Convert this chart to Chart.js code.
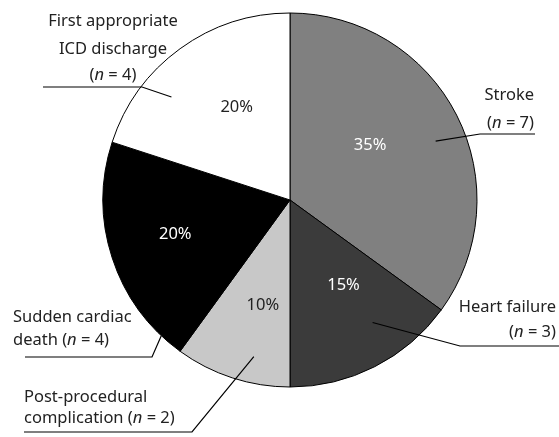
<!DOCTYPE html>
<html>
<head>
<meta charset="utf-8">
<script src="https://cdn.jsdelivr.net/npm/chart.js@4"></script>
<style>
  html, body { margin: 0; padding: 0; background: #fff; }
  #wrap { width: 559px; height: 437px; }
</style>
</head>
<body>
<div id="wrap"><canvas id="chart" width="559" height="437"></canvas></div>
<script>
// Outcome categories, counts (n) and shares
const categories = ['Stroke', 'Heart failure', 'Post-procedural complication', 'Sudden cardiac death', 'First appropriate ICD discharge'];
const counts = [7, 3, 2, 4, 4];
const percents = [35, 15, 10, 20, 20];
const sliceColors = ['#808080', '#3b3b3b', '#c8c8c8', '#000000', '#ffffff'];
const pctColors = ['#ffffff', '#ffffff', '#222222', '#ffffff', '#222222'];

// label text lines; the last line ends with "(n = x)"
const labelLines = [
  ['Stroke', '(n = 7)'],
  ['Heart failure', '(n = 3)'],
  ['Post-procedural', 'complication (n = 2)'],
  ['Sudden cardiac', 'death (n = 4)'],
  ['First appropriate', 'ICD discharge', '(n = 4)'],
];

// layout of the callouts (screen px); inner end of leader given as angle (deg from top, clockwise) + radius fraction
const callouts = [
  { align: 'right',  x: 534, base: [100, 128],     line: [535, 134, 480], inner: [68, 0.84] },
  { align: 'right',  x: 556, base: [312, 337],     line: [559, 346, 460], inner: [146, 0.79] },
  { align: 'left',   x: 24,  base: [402, 423],     line: [24, 432, 192],  inner: [193, 0.86] },
  { align: 'left',   x: 13,  base: [322, 345],     line: [25, 357, 152],  inner: [223.5, 1.0] },
  { align: 'center', x: 113, base: [26, 54, 80],   line: [43, 87, 142],   inner: [311, 0.84] },
];
// percentage label anchors (angle deg from top, radius fraction)
const pctPos = [[55.5, 0.52], [148, 0.54], [194.5, 0.58], [253.5, 0.64], [330, 0.57]];

const FONT = '"Noto Sans", sans-serif';
const SIZE = 16.5;

function polar(cx, cy, deg, r) {
  const a = (deg - 90) * Math.PI / 180;
  return [cx + r * Math.cos(a), cy + r * Math.sin(a)];
}

/** Draw a line of text, setting "n" of "(n =" in italics. */
function richText(ctx, text, x, y, align) {
  const m = text.match(/^(.*\()n( = .*)$/);
  const parts = m ? [[m[1], false], ['n', true], [m[2], false]] : [[text, false]];
  const fontOf = it => (it ? 'italic ' : '') + SIZE + 'px ' + FONT;
  let w = 0;
  parts.forEach(p => { ctx.font = fontOf(p[1]); w += ctx.measureText(p[0]).width; });
  let sx = align === 'right' ? x - w : align === 'center' ? x - w / 2 : x;
  ctx.textAlign = 'left';
  parts.forEach(p => {
    ctx.font = fontOf(p[1]);
    ctx.fillText(p[0], sx, y);
    sx += ctx.measureText(p[0]).width;
  });
}

const calloutPlugin = {
  id: 'callouts',
  afterDatasetsDraw(chart) {
    const ctx = chart.ctx;
    const arc = chart.getDatasetMeta(0).data[0];
    const cx = arc.x, cy = arc.y, R = arc.outerRadius;
    ctx.save();
    // percentages
    percents.forEach((p, i) => {
      const [x, y] = polar(cx, cy, pctPos[i][0], R * pctPos[i][1]);
      ctx.fillStyle = pctColors[i];
      ctx.font = SIZE + 'px ' + FONT;
      ctx.textAlign = 'center';
      ctx.textBaseline = 'middle';
      ctx.fillText(p + '%', x, y);
    });
    ctx.textBaseline = 'alphabetic';
    // callouts
    callouts.forEach((c, i) => {
      ctx.fillStyle = '#222';
      labelLines[i].forEach((t, j) => richText(ctx, t, c.x, c.base[j], c.align));
      const [x0, ly, ex] = c.line;
      const [ix, iy] = polar(cx, cy, c.inner[0], R * c.inner[1]);
      ctx.strokeStyle = '#000';
      ctx.lineWidth = 1.2;
      ctx.beginPath();
      ctx.moveTo(x0, ly);
      ctx.lineTo(ex, ly);
      ctx.lineTo(ix, iy);
      ctx.stroke();
    });
    ctx.restore();
  },
};

new Chart(document.getElementById('chart'), {
  type: 'pie',
  data: {
    labels: categories,
    datasets: [{
      data: counts,
      backgroundColor: sliceColors,
      borderColor: '#000',
      borderWidth: 1,
      radius: 187,
    }],
  },
  options: {
    responsive: false, animation: false, devicePixelRatio: 1,
    layout: { padding: { left: 21, right: 0, top: 0, bottom: 37 } },
    events: [],
    plugins: { legend: { display: false }, tooltip: { enabled: false } },
  },
  plugins: [calloutPlugin],
});
</script>
</body>
</html>
